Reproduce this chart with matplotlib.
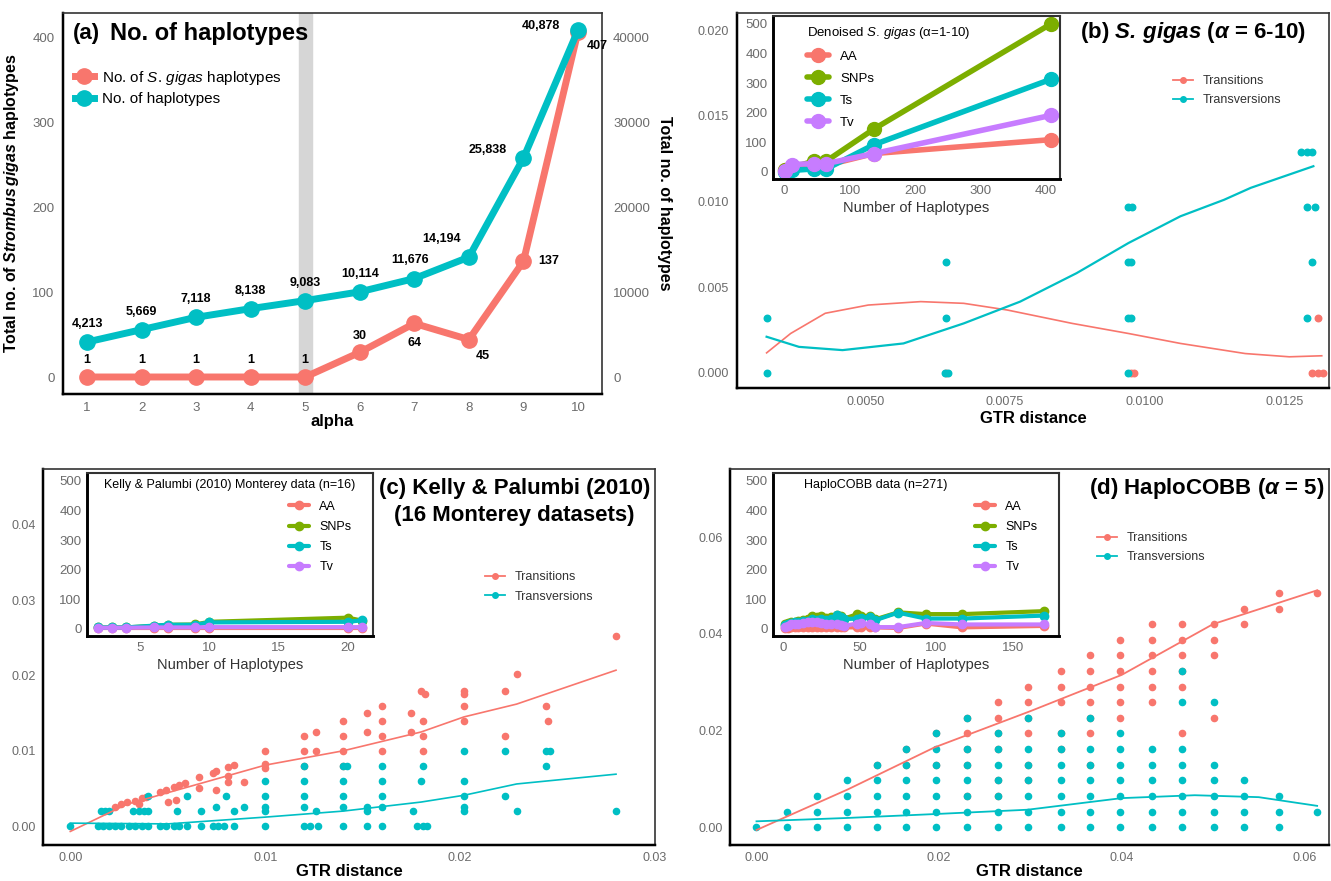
import matplotlib
matplotlib.use("Agg")
import matplotlib.pyplot as plt
from matplotlib.lines import Line2D

plt.rcParams['font.family'] = ['Liberation Sans', 'DejaVu Sans']
plt.rcParams['mathtext.fontset'] = 'custom'
plt.rcParams['mathtext.rm'] = 'Liberation Sans'
plt.rcParams['mathtext.it'] = 'Liberation Sans:italic'
plt.rcParams['mathtext.bf'] = 'Liberation Sans:bold'
plt.rcParams['mathtext.bfit'] = 'Liberation Sans:italic:bold'

RED = '#F8766D'
TEAL = '#00BFC4'
GREEN = '#7CAE00'
PURPLE = '#C77CFF'
TICKC = '#6b6b6b'

# ---------------- data ----------------
# (a) haplotype counts per alpha
alpha = [1, 2, 3, 4, 5, 6, 7, 8, 9, 10]
sg_hap = [1, 1, 1, 1, 1, 30, 64, 45, 137, 407]
tot_hap = [4213, 5669, 7118, 8138, 9083, 10114, 11676, 14194, 25838, 40878]

# (b) inset: denoised S. gigas
b_hap = [1, 12, 45, 64, 137, 407]
b_aa = [5, 20, 25, 22, 62, 109]
b_snp = [5, 15, 36, 36, 145, 500]
b_ts = [0, 5, 10, 10, 92, 313]
b_tv = [3, 25, 28, 28, 62, 191]

# (b) scatter
b_ts_x = [0.00645, 0.0098, 0.00975, 0.0130, 0.0131, 0.0132, 0.0131]
b_ts_y = [0.0, 0.0, 0.0, 0.0, 0.0, 0.0, 0.00323]
b_tv_x = [0.00323, 0.00323, 0.00642, 0.00648, 0.00645, 0.00645, 0.0097, 0.0097, 0.00975,
          0.0097, 0.00975, 0.0097, 0.00978, 0.0129, 0.01305, 0.0130, 0.0129, 0.0128, 0.0129, 0.0130]
b_tv_y = [0.0, 0.00323, 0.0, 0.0, 0.00323, 0.00646, 0.0, 0.00323, 0.00323,
          0.00646, 0.00646, 0.0097, 0.0097, 0.0097, 0.0097, 0.00646, 0.00323, 0.0129, 0.0129, 0.0129]
b_ts_fit_x = [0.00323, 0.00366, 0.00428, 0.00505, 0.00599, 0.00676, 0.00754, 0.0087, 0.00971, 0.01064, 0.0118, 0.01259, 0.01317]
b_ts_fit_y = [0.00117, 0.0023, 0.00348, 0.00396, 0.00416, 0.00406, 0.00367, 0.00289, 0.0023, 0.00172, 0.00113, 0.00094, 0.001]
b_tv_fit_x = [0.00323, 0.00381, 0.00459, 0.00568, 0.00676, 0.00777, 0.00878, 0.00971, 0.01064, 0.01142, 0.0119, 0.01302]
b_tv_fit_y = [0.00211, 0.00152, 0.00133, 0.00172, 0.00289, 0.00416, 0.00582, 0.00758, 0.00914, 0.0101, 0.0108, 0.01206]

# (c) inset: Kelly & Palumbi (2010)
c_hap = [2, 3, 4, 6, 7, 9, 10, 20, 21]
c_aa = [2, 2, 2, 2, 2, 2, 2, 2, 2]
c_snp = [5, 5, 5, 10, 14, 15, 24, 38, 28]
c_ts = [5, 5, 5, 11, 14, 14, 22, 24, 29]
c_tv = [4, 4, 4, 5, 5, 5, 6, 6, 6]

# (c) scatter
c_ts_x = [0.0023, 0.0026, 0.0029, 0.0033, 0.0037, 0.0039, 0.0046, 0.0049, 0.0053, 0.0056, 0.0059,
          0.0066, 0.0073, 0.0075, 0.0081, 0.0084, 0.0066, 0.0075, 0.0081, 0.0081, 0.0089, 0.0050,
          0.0054, 0.0035, 0.0100, 0.0100, 0.0100, 0.0120, 0.0120, 0.0120, 0.0126, 0.0126,
          0.0140, 0.0140, 0.0140, 0.0140, 0.0152, 0.0152, 0.0160, 0.0160, 0.0160, 0.0160,
          0.0175, 0.0175, 0.0180, 0.0182, 0.0181, 0.0181, 0.0181, 0.0202, 0.0202, 0.0202,
          0.0202, 0.0223, 0.0223, 0.0229, 0.0244, 0.0245, 0.0280]
c_ts_y = [0.0026, 0.0029, 0.0032, 0.0034, 0.0037, 0.0039, 0.0046, 0.0048, 0.0052, 0.0054, 0.0057,
          0.0065, 0.0071, 0.0073, 0.0079, 0.0081, 0.0050, 0.0048, 0.0059, 0.0066, 0.0059, 0.0032,
          0.0035, 0.0030, 0.0100, 0.0082, 0.0077, 0.0120, 0.0100, 0.0080, 0.0125, 0.0100,
          0.0140, 0.0120, 0.0100, 0.0080, 0.0150, 0.0125, 0.0160, 0.0140, 0.0120, 0.0100,
          0.0150, 0.0125, 0.0180, 0.0176, 0.0140, 0.0120, 0.0100, 0.0180, 0.0176, 0.0160,
          0.0140, 0.0180, 0.0120, 0.0202, 0.0160, 0.0140, 0.0252]
c_tv_rows = {
    0.0000: [0.0, 0.0014, 0.0017, 0.0020, 0.0023, 0.0026, 0.0030, 0.0033, 0.0037, 0.0040, 0.0046,
             0.0049, 0.0053, 0.0056, 0.0060, 0.0067, 0.0073, 0.0076, 0.0079, 0.0084, 0.0100, 0.0120,
             0.0123, 0.0127, 0.0140, 0.0152, 0.0160, 0.0178, 0.0181, 0.0183],
    0.0020: [0.0016, 0.0018, 0.0020, 0.0032, 0.0035, 0.0038, 0.0040, 0.0055, 0.0067, 0.0084, 0.0100,
             0.0126, 0.0152, 0.0176, 0.0202, 0.0229, 0.0280],
    0.0026: [0.0075, 0.0089, 0.0100, 0.0120, 0.0140, 0.0152, 0.0160, 0.0202],
    0.0040: [0.0040, 0.0060, 0.0080, 0.0100, 0.0120, 0.0140, 0.0160, 0.0202, 0.0223],
    0.0060: [0.0100, 0.0120, 0.0140, 0.0160, 0.0180, 0.0202],
    0.0080: [0.0120, 0.0140, 0.0142, 0.0160, 0.0181, 0.0244],
    0.0100: [0.0202, 0.0223, 0.0244, 0.0246],
}
c_ts_fit_x = [0.0, 0.0029, 0.0100, 0.0140, 0.0180, 0.0202, 0.0229, 0.0280]
c_ts_fit_y = [-0.0007, 0.0029, 0.0081, 0.0100, 0.0125, 0.0145, 0.0162, 0.0207]
c_tv_fit_x = [0.0, 0.0050, 0.0100, 0.0140, 0.0180, 0.0202, 0.0229, 0.0280]
c_tv_fit_y = [0.0004, 0.0003, 0.0012, 0.0020, 0.0032, 0.0041, 0.0056, 0.0069]

# (d) inset: HaploCOBB
d_hap = [1, 3, 5, 8, 10, 13, 16, 19, 22, 25, 28, 31, 35, 38, 40, 48, 51, 57, 60, 75, 93, 117, 170]
d_aa = [3, 4, 5, 5, 5, 5, 5, 5, 5, 5, 5, 5, 5, 5, 5, 5, 5, 5, 5, 3, 18, 5, 10]
d_snp = [15, 20, 25, 25, 27, 30, 32, 44, 40, 42, 38, 40, 48, 42, 35, 49, 42, 45, 32, 56, 50, 50, 60]
d_ts = [12, 15, 20, 22, 24, 26, 28, 33, 30, 35, 30, 33, 47, 40, 33, 35, 38, 40, 29, 55, 35, 35, 45]
d_tv = [5, 10, 15, 18, 18, 20, 24, 24, 22, 20, 15, 15, 15, 12, 10, 18, 20, 15, 6, 6, 20, 15, 15]

# (d) scatter: GTR distance columns and substitution levels (index of 0.00323 steps)
d_step = 0.00323
d_cols = [0.0000, 0.0033, 0.0066, 0.0099, 0.0132, 0.0164, 0.0197, 0.0231, 0.0264, 0.0297,
          0.0334, 0.0365, 0.0398, 0.0433, 0.0466, 0.0501, 0.0534, 0.0572, 0.0614]
d_ts_lv = [[], [], [], [], [4], [4, 5], [4, 6], [2, 4, 5, 6, 7], [2, 3, 5, 6, 7, 8],
           [3, 4, 6, 7, 8, 9], [5, 6, 8, 9, 10], [4, 6, 7, 8, 9, 10, 11], [7, 8, 9, 10, 11, 12],
           [8, 9, 10, 11, 12, 13], [6, 9, 10, 11, 12, 13], [7, 11, 12, 13], [13, 14], [14, 15], [15]]
d_tv_lv = [[0], [0, 1], [0, 1, 2], [0, 1, 2, 3], [0, 1, 2, 3, 4], [0, 1, 2, 3, 4, 5],
           [0, 1, 2, 3, 4, 5, 6], [0, 1, 2, 3, 4, 5, 7], [0, 1, 2, 3, 4, 5, 6],
           [0, 1, 2, 3, 4, 5, 7], [0, 1, 2, 3, 4, 5, 6], [0, 1, 2, 3, 4, 5, 7],
           [0, 1, 2, 3, 4, 5, 6], [0, 1, 2, 3, 4, 5], [0, 1, 2, 3, 4, 5, 8, 10],
           [0, 1, 2, 3, 4, 8], [0, 1, 2, 3], [0, 1, 2], [1]]
d_ts_fit_x = [0.0, 0.0100, 0.0195, 0.0300, 0.0400, 0.0500, 0.0614]
d_ts_fit_y = [-0.0006, 0.0078, 0.0165, 0.0240, 0.0315, 0.0420, 0.0490]
d_tv_fit_x = [0.0, 0.0100, 0.0195, 0.0297, 0.0400, 0.0480, 0.0550, 0.0614]
d_tv_fit_y = [0.0012, 0.0019, 0.0027, 0.0036, 0.0060, 0.0066, 0.0062, 0.0044]

W, H = 1331, 881
fig = plt.figure(figsize=(W / 100, H / 100), dpi=100)


def px_axes(l, t, r, b):
    return fig.add_axes([l / W, 1 - b / H, (r - l) / W, (b - t) / H])


def style_axes(ax, lw=1.2, size=9, pad=6):
    for s in ax.spines.values():
        s.set_linewidth(lw)
        s.set_color('#333333')
    ax.spines['left'].set_linewidth(lw + 0.6)
    ax.spines['bottom'].set_linewidth(lw + 0.6)
    ax.spines['left'].set_color('black')
    ax.spines['bottom'].set_color('black')
    ax.tick_params(length=0, labelsize=size, labelcolor=TICKC, pad=pad)


def sub_legend(ax, pos, fs=9):
    h = [Line2D([], [], color=RED, marker='o', ms=4, lw=1.3),
         Line2D([], [], color=TEAL, marker='o', ms=4, lw=1.3)]
    ax.legend(h, ['Transitions', 'Transversions'], loc='upper left', bbox_to_anchor=pos,
              frameon=False, fontsize=fs, handlelength=1.6, labelspacing=0.6,
              labelcolor='#333333', borderaxespad=0)


def inset_lines(ax, x, aa, snp, ts, tv, ms, lw):
    for y, c, lab in [(aa, RED, 'AA'), (snp, GREEN, 'SNPs'), (ts, TEAL, 'Ts'), (tv, PURPLE, 'Tv')]:
        ax.plot(x, y, color=c, lw=lw, marker='o', ms=ms, label=lab, solid_capstyle='round')


# ---------------- (a) ----------------
axa = px_axes(63, 13, 602, 394)
style_axes(axa, size=9.5)
axa.axvspan(4.88, 5.12, color='#d6d6d6', zorder=0)
axa.plot(alpha, sg_hap, color=RED, lw=5, marker='o', ms=11, zorder=3)
axa.set_xlim(0.56, 10.44)
axa.set_ylim(-19, 429)
axa.set_xticks(alpha)
axa.set_yticks([0, 100, 200, 300, 400])
axa.set_xlabel('alpha', fontsize=12, fontweight='bold', labelpad=0)
axa.set_ylabel(r'Total no. of $\mathbfit{Strombus\,gigas}$ haplotypes', fontsize=11.5,
               fontweight='bold', labelpad=8)
axt = axa.twinx()
axt.plot(alpha, tot_hap, color=TEAL, lw=5, marker='o', ms=11, zorder=3)
axt.set_ylim(-1900, 42900)
axt.set_yticks([0, 10000, 20000, 30000, 40000])
axt.tick_params(length=0, labelsize=9.5, labelcolor=TICKC, pad=8)
for s in axt.spines.values():
    s.set_visible(False)
axt.set_ylabel('Total no. of haplotypes', fontsize=11.5, fontweight='bold', rotation=270,
               labelpad=16)

red_off = [(0, 12), (0, 12), (0, 12), (0, 12), (0, 12), (0, 12), (0, -14), (10, -12), (18, 0), (14, -10)]
tot_off = [(0, 13), (0, 13), (0, 13), (0, 13), (0, 13), (0, 13), (-3, 13), (-20, 13), (-26, 6), (-27, 3)]
for x, v, o in zip(alpha, sg_hap, red_off):
    axa.annotate(f'{v:,}', (x, v), xytext=o, textcoords='offset points', ha='center',
                 va='center', fontsize=9, fontweight='bold', zorder=5)
for x, v, o in zip(alpha, tot_hap, tot_off):
    axt.annotate(f'{v:,}', (x, v), xytext=o, textcoords='offset points', ha='center',
                 va='center', fontsize=9, fontweight='bold', zorder=5)
axa.text(0.018, 0.945, '(a)', transform=axa.transAxes, fontsize=16, fontweight='bold', va='center')
axa.text(0.088, 0.945, 'No. of haplotypes', transform=axa.transAxes, fontsize=17,
         fontweight='bold', va='center')
ha = [Line2D([], [], color=RED, lw=5, marker='o', ms=11),
      Line2D([], [], color=TEAL, lw=5, marker='o', ms=11)]
axa.legend(ha, [r'No. of $\mathit{S.\,gigas}$ haplotypes', 'No. of haplotypes'],
           loc='upper left', bbox_to_anchor=(0.01, 0.87), frameon=False, fontsize=11,
           handlelength=1.3, labelspacing=0.35, handletextpad=0.5, borderaxespad=0)

# ---------------- (b) ----------------
axb = px_axes(737, 13, 1329, 388)
style_axes(axb)
axb.scatter(b_ts_x, b_ts_y, s=22, color=RED, zorder=2)
axb.scatter(b_tv_x, b_tv_y, s=22, color=TEAL, zorder=3)
axb.plot(b_ts_fit_x, b_ts_fit_y, color=RED, lw=1.2)
axb.plot(b_tv_fit_x, b_tv_fit_y, color=TEAL, lw=1.6)
axb.set_xlim(0.0027, 0.0133)
axb.set_ylim(-0.00088, 0.021)
axb.set_xticks([0.005, 0.0075, 0.01, 0.0125])
axb.set_xticklabels(['0.0050', '0.0075', '0.0100', '0.0125'])
axb.set_yticks([0, 0.005, 0.01, 0.015, 0.02])
axb.set_yticklabels(['0.000', '0.005', '0.010', '0.015', '0.020'])
axb.set_xlabel('GTR distance', fontsize=12, fontweight='bold', labelpad=2)
axb.text(0.77, 0.947, r'(b) $\mathbfit{S.\,gigas}$ ($\mathbfit{α}$ = 6-10)', transform=axb.transAxes,
         fontsize=16, fontweight='bold', ha='center', va='center')
sub_legend(axb, ((1168 - 737) / 592, (388 - 70) / 375))

axbi = px_axes(773, 16, 1060, 179)
style_axes(axbi, lw=1.5, size=9.5, pad=4)
inset_lines(axbi, b_hap, b_aa, b_snp, b_ts, b_tv, ms=10, lw=4)
axbi.set_xlim(-17, 421)
axbi.set_ylim(-24, 527)
axbi.set_xticks([0, 100, 200, 300, 400])
axbi.set_yticks([0, 100, 200, 300, 400, 500])
axbi.set_xlabel('Number of Haplotypes', fontsize=10.5, color='#333333', labelpad=3)
lg = axbi.legend(loc='upper left', bbox_to_anchor=(0.1, 0.98), frameon=False, fontsize=9.5,
                 title=r'Denoised $\mathit{S.\,gigas}$ (α=1-10)', title_fontsize=9.5,
                 handlelength=1.7, labelspacing=0.75, borderaxespad=0)
lg._legend_box.align = 'left'

# ---------------- (c) ----------------
axc = px_axes(43, 469, 655, 845)
style_axes(axc, pad=5)
axc.scatter(c_ts_x, c_ts_y, s=20, color=RED, zorder=2)
for yv, xs in c_tv_rows.items():
    axc.scatter(xs, [yv] * len(xs), s=20, color=TEAL, zorder=3)
axc.plot(c_ts_fit_x, c_ts_fit_y, color=RED, lw=1.2, zorder=4)
axc.plot(c_tv_fit_x, c_tv_fit_y, color=TEAL, lw=1.2, zorder=4)
axc.set_xlim(-0.0014, 0.0292)
axc.set_ylim(-0.0025, 0.0474)
axc.set_xticks([0, 0.01, 0.02, 0.03])
axc.set_xticklabels(['0.00', '0.01', '0.02', '0.03'])
axc.set_yticks([0, 0.01, 0.02, 0.03, 0.04])
axc.set_yticklabels(['0.00', '0.01', '0.02', '0.03', '0.04'])
axc.set_xlabel('GTR distance', fontsize=12, fontweight='bold', labelpad=0)
axc.text(0.77, 0.947, '(c) Kelly & Palumbi (2010)', transform=axc.transAxes, fontsize=16,
         fontweight='bold', ha='center', va='center')
axc.text(0.77, 0.875, '(16 Monterey datasets)', transform=axc.transAxes, fontsize=16,
         fontweight='bold', ha='center', va='center')
sub_legend(axc, ((480 - 43) / 612, (845 - 566) / 376))

axci = px_axes(87, 473, 373, 636)
style_axes(axci, lw=1.5, size=9.5, pad=4)
inset_lines(axci, c_hap, c_aa, c_snp, c_ts, c_tv, ms=6, lw=3)
axci.set_xlim(1.2, 21.8)
axci.set_ylim(-24, 527)
axci.set_xticks([5, 10, 15, 20])
axci.set_yticks([0, 100, 200, 300, 400, 500])
axci.set_xlabel('Number of Haplotypes', fontsize=10.5, color='#333333', labelpad=3)
axci.text(0.5, 0.925, 'Kelly & Palumbi (2010) Monterey data (n=16)', transform=axci.transAxes,
          fontsize=9, ha='center', va='center')
axci.legend(loc='upper left', bbox_to_anchor=(0.69, 0.86), frameon=False, fontsize=9,
            handlelength=1.6, labelspacing=0.65, borderaxespad=0)

# ---------------- (d) ----------------
axd = px_axes(730, 469, 1329, 845)
style_axes(axd, pad=5)
for x, lv in zip(d_cols, d_ts_lv):
    axd.scatter([x] * len(lv), [k * d_step for k in lv], s=20, color=RED, zorder=2)
for x, lv in zip(d_cols, d_tv_lv):
    axd.scatter([x] * len(lv), [k * d_step for k in lv], s=20, color=TEAL, zorder=3)
axd.plot(d_ts_fit_x, d_ts_fit_y, color=RED, lw=1.3, zorder=4)
axd.plot(d_tv_fit_x, d_tv_fit_y, color=TEAL, lw=1.3, zorder=4)
axd.set_xlim(-0.0029, 0.0627)
axd.set_ylim(-0.0037, 0.0741)
axd.set_xticks([0, 0.02, 0.04, 0.06])
axd.set_xticklabels(['0.00', '0.02', '0.04', '0.06'])
axd.set_yticks([0, 0.02, 0.04, 0.06])
axd.set_yticklabels(['0.00', '0.02', '0.04', '0.06'])
axd.set_xlabel('GTR distance', fontsize=12, fontweight='bold', labelpad=0)
axd.text(0.796, 0.947, r'(d) HaploCOBB ($\mathbfit{α}$ = 5)', transform=axd.transAxes,
         fontsize=16, fontweight='bold', ha='center', va='center')
sub_legend(axd, ((1092 - 730) / 599, (845 - 527) / 376))

axdi = px_axes(773, 473, 1059, 636)
style_axes(axdi, lw=1.5, size=9.5, pad=4)
inset_lines(axdi, d_hap, d_aa, d_snp, d_ts, d_tv, ms=6, lw=3)
axdi.set_xlim(-6.5, 180)
axdi.set_ylim(-24, 527)
axdi.set_xticks([0, 50, 100, 150])
axdi.set_yticks([0, 100, 200, 300, 400, 500])
axdi.set_xlabel('Number of Haplotypes', fontsize=10.5, color='#333333', labelpad=3)
axdi.text(0.11, 0.925, 'HaploCOBB data (n=271)', transform=axdi.transAxes,
          fontsize=9, ha='left', va='center')
axdi.legend(loc='upper left', bbox_to_anchor=(0.69, 0.86), frameon=False, fontsize=9,
            handlelength=1.6, labelspacing=0.65, borderaxespad=0)

fig.savefig('out.png', dpi=100)
